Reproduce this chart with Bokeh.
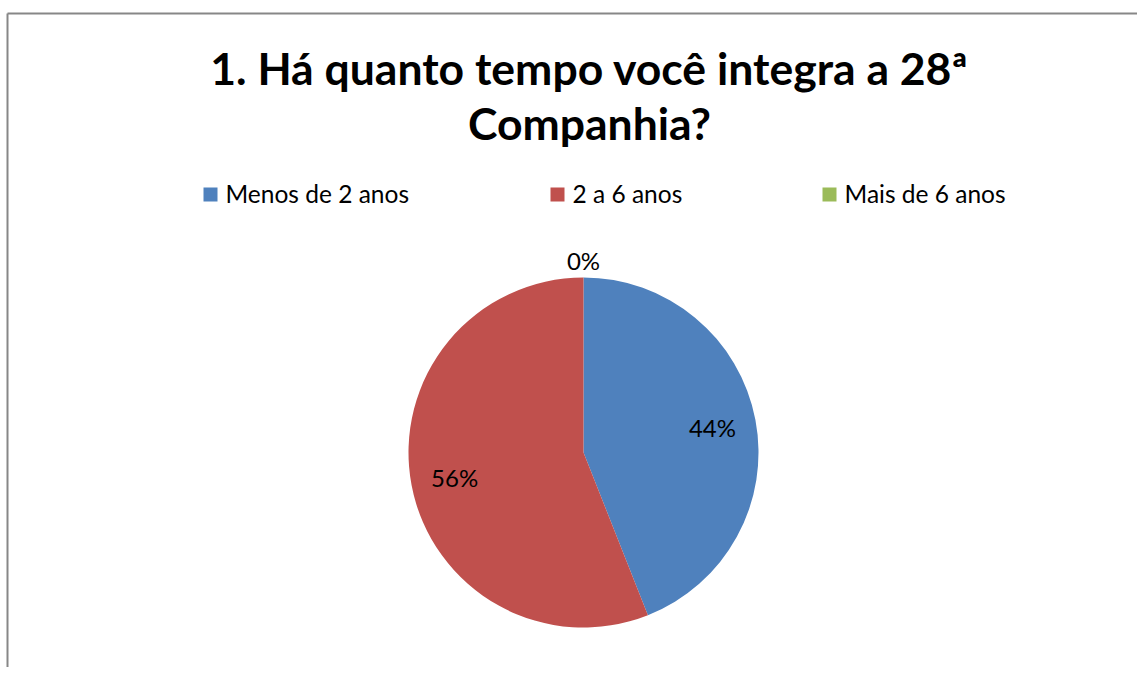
import numpy as np
from bokeh.plotting import figure
from bokeh.models import Range1d, ColumnDataSource
from bokeh.core.properties import value
from bokeh.embed import file_html
from bokeh.resources import INLINE

title_lines = ["1. Há quanto tempo você integra a 28ª", "Companhia?"]
categories = ["Menos de 2 anos", "2 a 6 anos", "Mais de 6 anos"]
percent = [44, 56, 0]
colors = ["#4F81BD", "#C0504D", "#9BBB59"]

FONT = "Lato"
W, H = 1137, 667
p = figure(width=W, height=H, output_backend="svg", toolbar_location=None,
           x_range=Range1d(0, W), y_range=Range1d(0, H),
           min_border=0, outline_line_color=None)
p.axis.visible = False
p.grid.visible = False
p.background_fill_color = "white"
p.border_fill_color = "white"

def Y(img_y):
    return H - img_y

# chart border (left and top edges visible)
p.line([7, 7], [Y(13), Y(H)], line_color="#878787", line_width=2)
p.line([7, W], [Y(13), Y(13)], line_color="#878787", line_width=2)

# title
p.text(x=[589, 589], y=[Y(67), Y(122)], text=title_lines,
       text_font=value(FONT), text_font_style="bold", text_font_size="44.5px",
       text_align="center", text_baseline="middle", text_color="black")

# legend
leg_x = [203, 550, 822]
p.scatter(x=[x + 7 for x in leg_x], y=[Y(194)] * 3, marker="square", size=14,
          fill_color=colors, line_color=None)
p.text(x=[x + 22 for x in leg_x], y=[Y(193)] * 3, text=categories,
       text_font=value(FONT), text_font_size="24.5px",
       text_align="left", text_baseline="middle", text_color="black")

# pie
cx, cy, R = 583, Y(452), 175
frac = np.array(percent, dtype=float) / sum(percent)
cum_end = np.cumsum(frac)
cum_start = cum_end - frac
start = np.pi / 2 - cum_end * 2 * np.pi
end = np.pi / 2 - cum_start * 2 * np.pi
mask = frac > 0
src = ColumnDataSource(dict(start=start[mask], end=end[mask],
                            color=[c for c, m in zip(colors, mask) if m]))
p.wedge(x=cx, y=cy, radius=R, start_angle="start", end_angle="end",
        direction="anticlock", fill_color="color", line_color=None, source=src)

# labels
mid = (start + end) / 2
lr = np.where(frac > 0, 0.75 * R, R + 17)
lx = cx + lr * np.cos(mid)
ly = cy + lr * np.sin(mid)
p.text(x=list(lx), y=list(ly), text=[f"{v}%" for v in percent],
       text_font=value(FONT), text_font_size="24px",
       text_align="center", text_baseline="middle", text_color="black")

open("out.html", "w").write(file_html(p, INLINE))
